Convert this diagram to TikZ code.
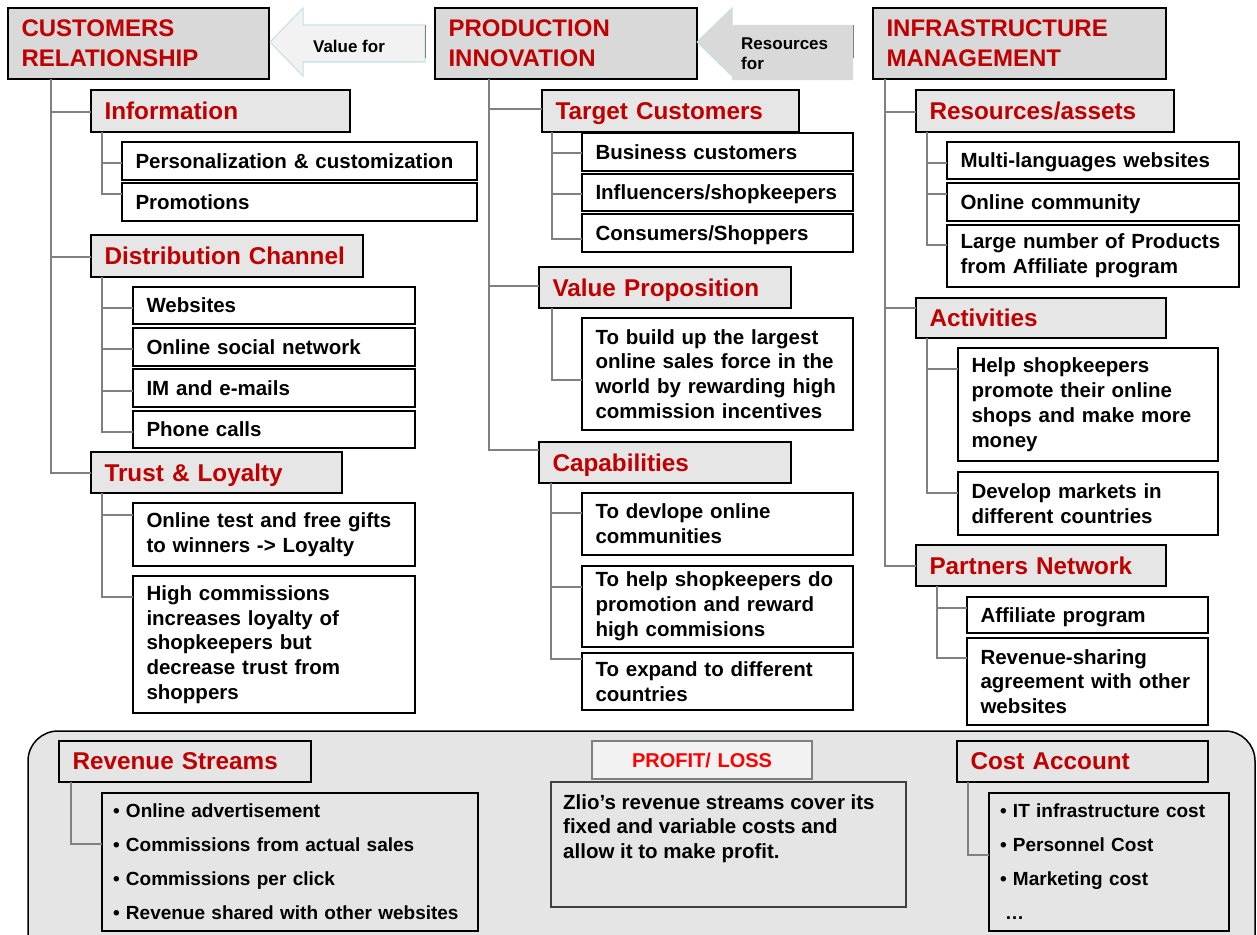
\documentclass[tikz,border=0pt]{standalone}
\usepackage{fontspec}
\setmainfont{Liberation Sans}
\usetikzlibrary{calc}

\definecolor{hdrred}{RGB}{192,0,0}
\definecolor{plred}{RGB}{255,0,0}
\definecolor{hdrfill}{RGB}{217,217,217}
\definecolor{subfill}{RGB}{230,230,230}
\definecolor{panelfill}{RGB}{229,229,229}
\definecolor{treegray}{RGB}{128,128,128}
\definecolor{arrowedge}{RGB}{196,224,230}
\definecolor{arrowlight}{RGB}{242,242,242}

\tikzset{
  box/.style={draw=black, line width=1.5pt, outer sep=0pt, inner xsep=13.5pt,
    inner ysep=0pt, align=left, font=\bfseries\fontsize{20.5}{24.8}\selectfont},
  hdr/.style={box, fill=hdrfill, text=hdrred, font=\bfseries\fontsize{24}{30}\selectfont},
  sub/.style={box, fill=subfill, text=hdrred, text depth=0pt, font=\bfseries\fontsize{24.3}{30}\selectfont},
  subpanel/.style={sub, fill=panelfill},
  leaf/.style={box, fill=white},
  leafone/.style={leaf, text depth=0pt},
  listbox/.style={box, fill=panelfill, inner xsep=11pt, font=\bfseries\fontsize{19}{34}\selectfont},
  plbox/.style={box, draw=treegray, line width=1.2pt, fill=arrowlight, text=plred,
    align=center, text depth=0pt, font=\bfseries\fontsize{20}{24}\selectfont},
  zbox/.style={box, draw=black!75, line width=1.2pt, fill=panelfill},
  tree/.style={draw=treegray, line width=1.3pt},
}

% [total side margin]{name}{x1}{y1}{x2}{y2}{style}{text}
\newcommand\cellbox[8][27]{%
  \pgfmathsetmacro\cbw{#5-#3}%
  \pgfmathsetmacro\cbh{#6-#4}%
  \pgfmathsetmacro\cbt{#5-#3-#1}%
  \node[#7, anchor=north west, minimum width=\cbw pt, minimum height=\cbh pt,
        text width=\cbt pt] (#2) at (#3,#4) {#8};}

\begin{document}
\begin{tikzpicture}[x=1pt, y=-1pt]
\useasboundingbox (0,0) rectangle (1257,934);
\fill[white] (0,0) rectangle (1257,934);
\clip (0,0) rectangle (1257,934);

% ---- header blocks ----
\cellbox{crel}{8}{8}{269}{79}{hdr}{CUSTOMERS\\RELATIONSHIP}
\cellbox{prod}{435}{8}{697}{79}{hdr}{PRODUCTION\\INNOVATION}
\cellbox{infra}{873}{8}{1166}{79}{hdr}{INFRASTRUCTURE\\MANAGEMENT}

% ---- block arrows between the headers ----
\filldraw[fill=arrowlight, draw=arrowedge, line width=1pt]
  (270,42) -- (303,8) -- (303,25) -- (425,25) -- (425,62) -- (303,62) -- (303,76) -- cycle;
\draw[treegray, line width=1pt] (425,25) -- (425,58);
\node[font=\bfseries\fontsize{17}{20}\selectfont, inner sep=0pt] (valuefor) at (349,46) {Value for};

\fill[hdrfill] (697,42) -- (732,8) -- (732,25) -- (853,25) -- (853,80) -- (732,80) -- (732,76) -- cycle;
\draw[arrowedge, line width=1pt] (732,25) -- (732,8) -- (697,42) -- (732,76);
\draw[treegray, line width=1pt] (853,25) -- (853,58);
\node[font=\bfseries\fontsize{17}{20}\selectfont, inner sep=0pt, align=left, anchor=north west]
  (resfor) at (741,38) {Resources\\for};

% ---- customers relationship ----
\cellbox{info}{91}{90}{350}{132}{sub}{Information}
\cellbox{pers}{122}{142}{477}{180}{leafone}{Personalization \& customization}
\cellbox{promo}{122}{183}{477}{221}{leafone}{Promotions}
\cellbox{dist}{91}{235}{363}{277}{sub}{Distribution Channel}
\cellbox{web}{133}{287}{415}{324}{leafone}{Websites}
\cellbox{social}{133}{328}{415}{366}{leafone}{Online social network}
\cellbox{im}{133}{369}{415}{407}{leafone}{IM and e-mails}
\cellbox{phone}{133}{411}{415}{448}{leafone}{Phone calls}
\cellbox{trust}{91}{452}{342}{493}{sub}{Trust \& Loyalty}
\cellbox{test}{133}{503}{415}{566}{leaf}{Online test and free gifts\\to winners -> Loyalty}
\cellbox{highc}{133}{576}{415}{713}{leaf}{High commissions\\increases loyalty of\\shopkeepers but\\decrease trust from\\shoppers}

% ---- production innovation ----
\cellbox{target}{542}{90}{799}{132}{sub}{Target Customers}
\cellbox{business}{582}{133}{853}{171}{leafone}{Business customers}
\cellbox{influ}{582}{174}{853}{211}{leafone}{Influencers/shopkeepers}
\cellbox{consum}{582}{214}{853}{252}{leafone}{Consumers/Shoppers}
\cellbox{valprop}{539}{267}{791}{308}{sub}{Value Proposition}
\cellbox{build}{582}{318}{853}{430}{leaf}{To build up the largest\\online sales force in the\\world by rewarding high\\commission incentives}
\cellbox{capab}{539}{442}{791}{483}{sub}{Capabilities}
\cellbox{capa}{582}{493}{853}{555}{leaf}{To devlope online\\communities}
\cellbox{capb}{582}{566}{853}{647}{leaf}{To help shopkeepers do\\promotion and reward\\high commisions}
\cellbox{capc}{582}{653}{853}{710}{leaf}{To expand to different\\countries}

% ---- infrastructure management ----
\cellbox{resas}{916}{90}{1174}{132}{sub}{Resources/assets}
\cellbox{multi}{947}{142}{1239}{179}{leafone}{Multi-languages websites}
\cellbox{commu}{947}{183}{1239}{221}{leafone}{Online community}
\cellbox{large}{947}{225}{1239}{287}{leaf}{Large number of Products\\from Affiliate program}
\cellbox{activ}{916}{298}{1166}{338}{sub}{Activities}
\cellbox{helpsk}{958}{348}{1218}{461}{leaf}{Help shopkeepers\\promote their online\\shops and make more\\money}
\cellbox{develop}{958}{472}{1218}{535}{leaf}{Develop markets in\\different countries}
\cellbox{partn}{916}{545}{1166}{586}{sub}{Partners Network}
\cellbox{affil}{967}{597}{1208}{633}{leafone}{Affiliate program}
\cellbox{revsh}{967}{638}{1208}{725}{leaf}{Revenue-sharing\\agreement with other\\websites}

% ---- financial panel ----
\draw[line width=1.5pt, fill=panelfill, rounded corners=30pt]
  (28,990) -- (28,731) -- (1255,731) -- (1255,990) -- cycle;
\cellbox{revs}{59}{741}{311}{782}{subpanel}{Revenue Streams}
\cellbox[22]{revlist}{102}{793}{478}{931}{listbox}{• Online advertisement\\• Commissions from actual sales\\• Commissions per click\\• Revenue shared with other websites}
\cellbox{profit}{592}{741}{812}{779}{plbox}{PROFIT/ LOSS}
\cellbox{zlio}{551}{782}{906}{907}{zbox}{}
\node[anchor=north west, inner sep=0pt, align=left, font=\bfseries\fontsize{20.5}{24.5}\selectfont]
  (zliotext) at ($(zlio.north west)+(12,12)$)
  {Zlio’s revenue streams cover its\\fixed and variable costs and\\allow it to make profit.};
\cellbox{costacc}{957}{741}{1208}{782}{subpanel}{Cost Account}
\cellbox[22]{costlist}{989}{793}{1229}{931}{listbox}{• IT infrastructure cost\\• Personnel Cost\\• Marketing cost\\\hspace*{5pt}…}

% ---- tree connectors ----
\coordinate (tcrel) at ($(crel.south west)+(43,0)$);
\coordinate (tinfo) at ($(info.south west)+(11,0)$);
\coordinate (tdist) at ($(dist.south west)+(11,0)$);
\coordinate (ttrust) at ($(trust.south west)+(11,0)$);
\coordinate (tprod) at ($(prod.south west)+(54,0)$);
\coordinate (ttarget) at ($(target.south west)+(10,0)$);
\coordinate (tval) at ($(valprop.south west)+(13,0)$);
\coordinate (tcap) at ($(capab.south west)+(12,0)$);
\coordinate (tinfra) at ($(infra.south west)+(12,0)$);
\coordinate (tres) at ($(resas.south west)+(11,0)$);
\coordinate (tact) at ($(activ.south west)+(11,0)$);
\coordinate (tpart) at ($(partn.south west)+(21,0)$);
\coordinate (trev) at ($(revs.south west)+(12,0)$);
\coordinate (tcost) at ($(costacc.south west)+(11,0)$);

\foreach \t/\c/\o in {tcrel/info/22, tcrel/dist/22, tcrel/trust/21,
    tinfo/pers/21, tinfo/promo/11,
    tdist/web/21, tdist/social/21, tdist/im/22, tdist/phone/21,
    ttrust/test/12, ttrust/highc/21,
    tprod/target/19, tprod/valprop/19, tprod/capab/8,
    ttarget/business/20, ttarget/influ/20, ttarget/consum/25,
    tval/build/62,
    tcap/capa/20, tcap/capb/21, tcap/capc/6,
    tinfra/resas/22, tinfra/activ/10, tinfra/partn/21,
    tres/multi/21, tres/commu/11, tres/large/20,
    tact/helpsk/21, tact/develop/21,
    tpart/affil/11, tpart/revsh/20,
    trev/revlist/51, tcost/costlist/62}
  \draw[tree] (\t) |- ($(\c.north west)+(0,\o)$);
\end{tikzpicture}
\end{document}
